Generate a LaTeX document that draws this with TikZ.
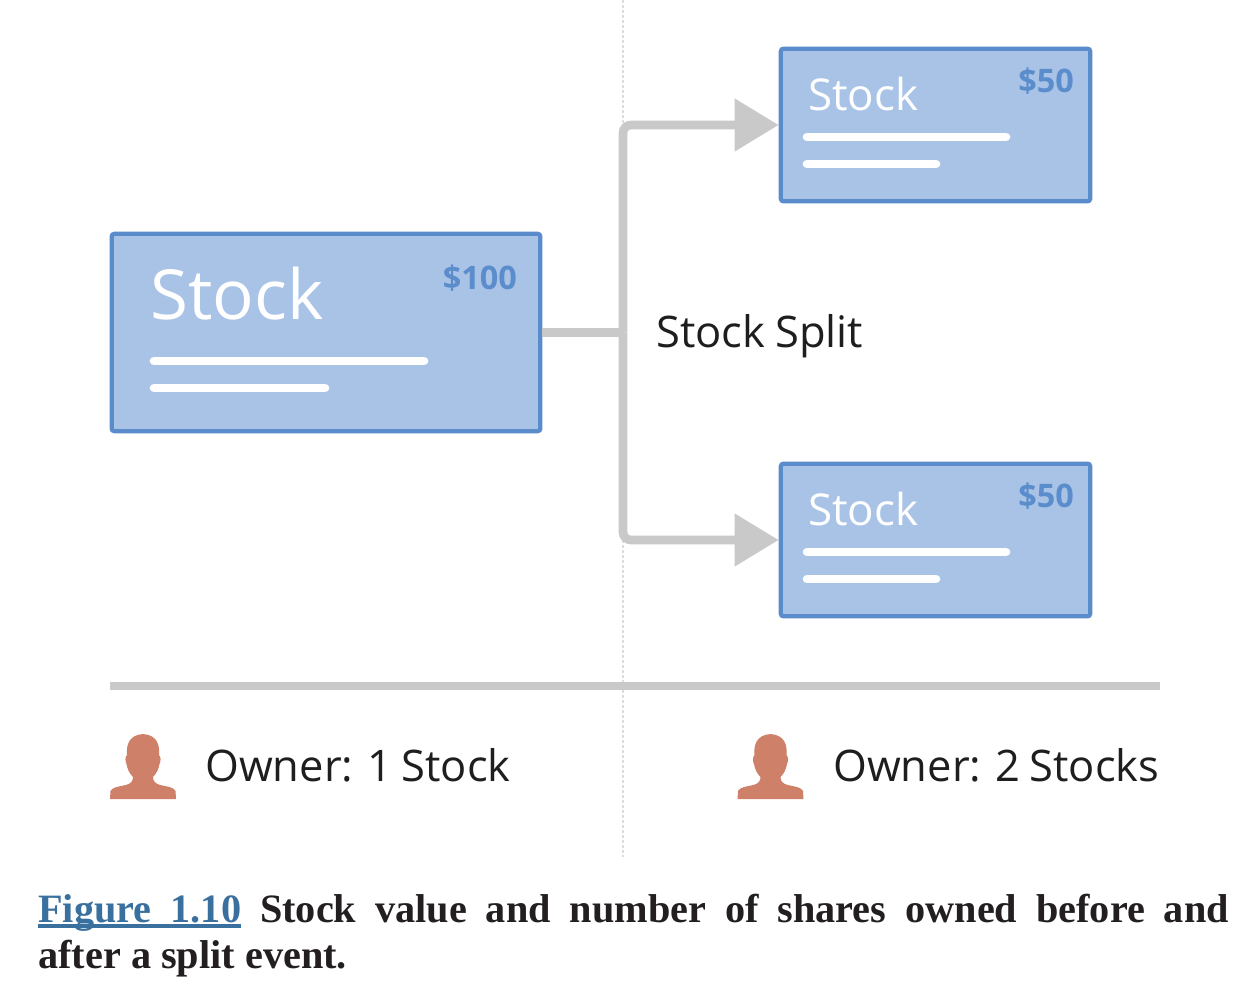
\documentclass[tikz,border=0pt]{standalone}
\usepackage{fontspec}
\setmainfont{Liberation Serif}
\newfontfamily\osans{Open Sans}
\newfontfamily\osanstight[WordSpace=0.88]{Open Sans}
\usetikzlibrary{arrows.meta}
\definecolor{boxfill}{HTML}{A9C3E7}
\definecolor{boxedge}{HTML}{5A8BCB}
\definecolor{pricec}{HTML}{5B8CCB}
\definecolor{linec}{HTML}{C9C9C9}
\definecolor{dotc}{HTML}{DDDDDD}
\definecolor{skin}{HTML}{CF8068}
\definecolor{linkc}{HTML}{3A709E}
\definecolor{capc}{HTML}{231F20}
\definecolor{ownerc}{HTML}{1E1E1E}
\newcommand{\linkul}[1]{\makebox[152.25pt][s]{#1}\llap{\rule[-3.75pt]{152.25pt}{2.6pt}}}
\tikzset{
  x=0.75pt,y=-0.75pt,
  stockbox/.style={draw=boxedge,fill=boxfill,line width=3.2pt,rounded corners=2pt,minimum width=#1,inner sep=0pt},
  bigtitle/.style={anchor=base west,inner sep=0pt,text=white,font=\osans\fontsize{51.8}{52}\selectfont},
  smalltitle/.style={anchor=base west,inner sep=0pt,text=white,font=\osans\fontsize{32.9}{33}\selectfont},
  price/.style={anchor=base east,inner sep=0pt,text=pricec,font=\osans\bfseries\fontsize{#1}{#1}\selectfont},
  label/.style={anchor=base west,inner sep=0pt,text=ownerc,font=\osanstight\fontsize{32.6}{33}\selectfont},
  bar/.style={draw=white,line width=6.5pt,line cap=round},
  conn/.style={draw=linec,line width=6.5pt,rounded corners=6pt},
  head/.style={-{Triangle[length=33pt,width=38pt]}},
}
\newcommand{\person}[1]{%
  \fill[skin,shift={(#1,0)}] (110,799) -- (110.5,791) .. controls (112,787.5) and (118,786.5) .. (126,785)
    .. controls (131,783.5) and (133,781) .. (133,777) .. controls (129,773) and (127.5,769) .. (126.5,764)
    .. controls (125,761) and (125,757) .. (127,755) .. controls (126,745) and (129,735) .. (143,734)
    .. controls (157,735) and (160,745) .. (159,755) .. controls (161,757) and (161,761) .. (159.5,764)
    .. controls (158.5,769) and (157,773) .. (153,777) .. controls (153,781) and (155,783.5) .. (160,785)
    .. controls (168,786.5) and (174,787.5) .. (175.5,791) -- (176,799) -- cycle;}
\begin{document}
\begin{tikzpicture}
\useasboundingbox (0,0) rectangle (1256,992);
\fill[white] (0,0) rectangle (1256,992);
\coordinate (dtop) at (623,0);
\coordinate (dbot) at (623,857);
\draw[dotc,line width=1.5pt,dash pattern=on 2pt off 1.75pt] (dtop) -- (dbot);
\coordinate (sepl) at (110,686);
\coordinate (sepr) at (1160,686);
\draw[linec,line width=6pt] (sepl) -- (sepr);

\node[stockbox=321.5pt,minimum height=148pt] (big) at (326,332.5) {};
\node[stockbox=232pt,minimum height=114.5pt] (top) at (935.5,125) {};
\node[stockbox=232pt,minimum height=114.5pt] (bot) at (935.5,540) {};

\coordinate (split) at (623,332.5);
\draw[conn] (big.east) -- (split);
\draw[conn,head] (split) |- (top.west);
\draw[conn,head] (split) |- (bot.west);

\node[bigtitle] (bigt) at (150,319) {Stock};
\node[price=24.3] (bigp) at (517,289) {\$100};
\draw[bar] (154,361) -- (424,361);
\draw[bar] (154,388) -- (325,388);

\node[smalltitle] (topt) at (808,110) {Stock};
\node[price=24.3] (topp) at (1074,92) {\$50};
\draw[bar] (807,137) -- (1006,137);
\draw[bar] (807,164) -- (936,164);

\node[smalltitle] (bott) at (808,525) {Stock};
\node[price=24.3] (botp) at (1074,507) {\$50};
\draw[bar] (807,552) -- (1006,552);
\draw[bar] (807,579) -- (936,579);

\node[label] (splitl) at (656,347) {Stock Split};
\person{0}
\person{627.5}
\node[label] (own1) at (205,781) {Owner: 1 Stock};
\node[label] (own2) at (833,781) {Owner: 2 Stocks};

\node[anchor=north west,inner sep=0pt,text width=893pt,align=justify,text=capc,
      font=\bfseries\fontsize{30.2}{34.5}\selectfont] (cap) at (38,894)
  {\textcolor{linkc}{\linkul{Figure\hfil 1.10}} Stock value and number of shares owned before and\linebreak after a split event.};
\end{tikzpicture}
\end{document}
